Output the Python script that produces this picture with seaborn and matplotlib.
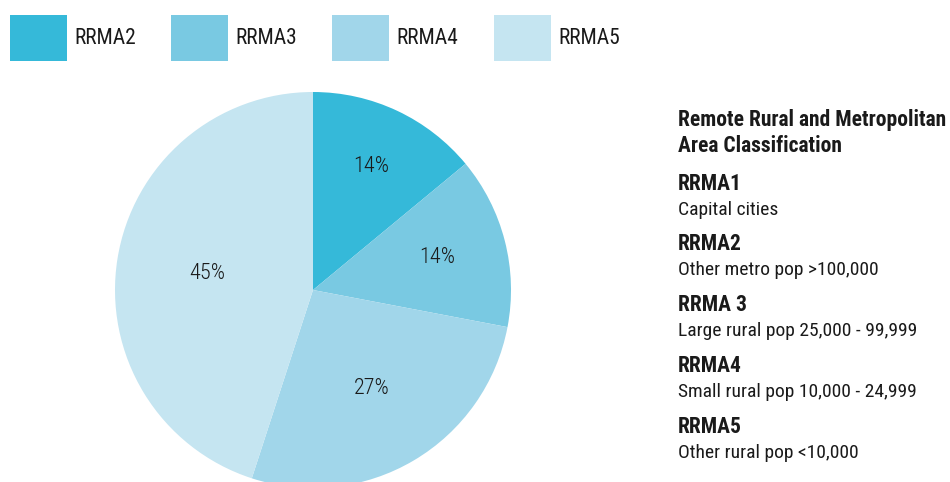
import matplotlib
matplotlib.use("Agg")
import matplotlib.pyplot as plt
import seaborn as sns
import numpy as np
from matplotlib.patches import Patch

sns.set_theme(style="white")
plt.rcParams['font.family'] = ['Roboto Condensed', 'Archivo Narrow', 'IBM Plex Sans Condensed', 'DejaVu Sans']

categories = ["RRMA2", "RRMA3", "RRMA4", "RRMA5"]
values = [14, 14, 27, 45]
colors = ["#35B9D9", "#79C9E2", "#A1D6EA", "#C5E5F1"]
label_dist = [0.69, 0.65, 0.58, 0.54]

info_title = ["Remote Rural and Metropolitan", "Area Classification"]
info_codes = ["RRMA1", "RRMA2", "RRMA 3", "RRMA4", "RRMA5"]
info_desc = ["Capital cities", "Other metro pop >100,000",
             "Large rural pop 25,000 - 99,999",
             "Small rural pop 10,000 - 24,999",
             "Other rural pop <10,000"]

fig = plt.figure(figsize=(9.5, 4.82), dpi=100)
fig.patch.set_facecolor("white")
ax = fig.add_axes([115/950, -6/482, 396/950, 396/482])
wedges, texts, autotexts = ax.pie(values, colors=colors, startangle=90, counterclock=False,
                                  autopct=lambda p: f"{p:.0f}%", pctdistance=0.6,
                                  wedgeprops=dict(linewidth=0), radius=1,
                                  textprops=dict(fontsize=16, color="#1a1a1a", fontweight="light"))
tot = sum(values)
ang = 90.0
for i, (v, t) in enumerate(zip(values, autotexts)):
    mid = ang - v / tot * 180
    ang -= v / tot * 360
    t.set_position((label_dist[i] * np.cos(np.radians(mid)), label_dist[i] * np.sin(np.radians(mid))))
ax.set_xlim(-1, 1)
ax.set_ylim(-1, 1)
ax.set_aspect("equal")
ax.axis("off")
for w in wedges:
    w.set_clip_on(False)

handles = [Patch(facecolor=c, edgecolor="none") for c in colors]
fig.legend(handles, categories, loc="upper left", bbox_to_anchor=(10/950, 1 - 15/482), ncol=4,
           frameon=False, fontsize=15.5, handlelength=2.65, handleheight=2.9,
           handletextpad=0.35, columnspacing=1.62, borderaxespad=0, borderpad=0,
           labelcolor="#1a1a1a")

x0 = 678 / 950
def fy(px):
    return 1 - px / 482
fig.text(x0, fy(120), info_title[0], fontsize=15.5, fontweight="bold", va="center", color="#1a1a1a")
fig.text(x0, fy(146), info_title[1], fontsize=15.5, fontweight="bold", va="center", color="#1a1a1a")
ys = [184, 244, 305, 366, 427]
for code, desc, y in zip(info_codes, info_desc, ys):
    fig.text(x0, fy(y), code, fontsize=15.5, fontweight="bold", va="center", color="#1a1a1a")
    fig.text(x0, fy(y + 26), desc, fontsize=14, va="center", color="#1a1a1a")

fig.savefig("out.png", dpi=100, facecolor="white")
